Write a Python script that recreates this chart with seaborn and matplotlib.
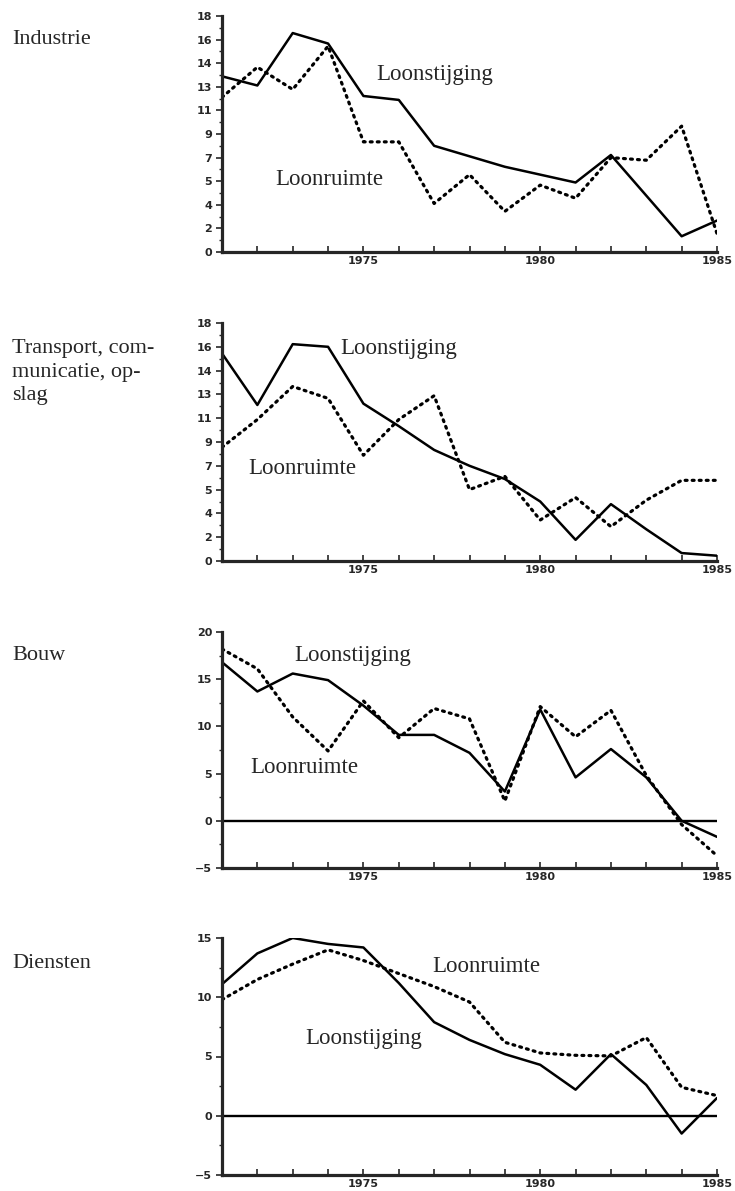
import numpy as np
import pandas as pd
import matplotlib
matplotlib.use("Agg")
import matplotlib.pyplot as plt
import seaborn as sns

# === data ===
years = list(range(1971, 1986))

ind_stijging = [13.4, 12.7, 16.7, 15.9, 11.9, 11.6, 8.1, 7.3, 6.5, 5.9, 5.3, 7.4, 4.3, 1.2, 2.4]
ind_ruimte = [11.8, 14.1, 12.4, 15.7, 8.4, 8.4, 3.7, 5.9, 3.1, 5.1, 4.1, 7.2, 7.0, 9.6, 1.4]

tra_stijging = [15.7, 11.8, 16.4, 16.2, 11.9, 10.2, 8.4, 7.2, 6.2, 4.5, 1.6, 4.3, 2.4, 0.6, 0.4]
tra_ruimte = [8.6, 10.7, 13.2, 12.3, 8.0, 10.7, 12.5, 5.4, 6.4, 3.1, 4.8, 2.6, 4.6, 6.1, 6.1]

bouw_stijging = [16.8, 13.7, 15.6, 14.9, 12.2, 9.1, 9.1, 7.2, 3.1, 11.8, 4.6, 7.6, 4.6, 0.0, -1.7]
bouw_ruimte = [18.2, 16.1, 11.0, 7.4, 12.7, 8.8, 11.9, 10.8, 2.1, 12.1, 8.9, 11.7, 4.8, -0.4, -3.7]

dien_stijging = [11.1, 13.7, 15.0, 14.5, 14.2, 11.2, 7.9, 6.4, 5.2, 4.3, 2.2, 5.2, 2.6, -1.5, 1.5]
dien_ruimte = [9.8, 11.5, 12.8, 14.0, 13.1, 12.0, 10.9, 9.6, 6.2, 5.3, 5.1, 5.05, 6.6, 2.4, 1.7]

sectors = ["Industrie", "Transport, com-\nmunicatie, op-\nslag", "Bouw", "Diensten"]
odd_labels = ["0", "2", "4", "5", "7", "9", "11", "13", "14", "16", "18"]
x_labels = ["1975", "1980", "1985"]

# === figure ===
sns.set_style("ticks")
plt.rcParams["font.family"] = ["DejaVu Sans"]
W, H = 735, 1191
fig = plt.figure(figsize=(W / 100, H / 100), dpi=100)

# axes boxes in pixels: (top, bottom)
boxes = [(16, 252), (323, 561), (632, 868), (938, 1175)]
x0, x1 = 222, 717

series = [(ind_stijging, ind_ruimte), (tra_stijging, tra_ruimte),
          (bouw_stijging, bouw_ruimte), (dien_stijging, dien_ruimte)]
ylims = [(0, 18), (0, 18), (-5, 20), (-5, 15)]

# text positions (x start, y centre) in data units
txt = [
    [("Loonstijging", 1975.35, 13.5), ("Loonruimte", 1972.5, 5.5)],
    [("Loonstijging", 1974.35, 16.1), ("Loonruimte", 1971.75, 7.0)],
    [("Loonstijging", 1973.05, 17.5), ("Loonruimte", 1971.8, 5.6)],
    [("Loonruimte", 1976.95, 12.6), ("Loonstijging", 1973.35, 6.5)],
]
side_y = [40, 372, 655, 963]

serif = "Liberation Serif"
tickfont = dict(family="DejaVu Sans", weight="bold", size=8)

for i, ((top, bot), (st, ru), yl) in enumerate(zip(boxes, series, ylims)):
    ax = fig.add_axes([x0 / W, 1 - bot / H, (x1 - x0) / W, (bot - top) / H])
    df = pd.DataFrame({"jaar": years, "stijging": st, "ruimte": ru})
    sns.lineplot(data=df, x="jaar", y="stijging", ax=ax, color="black", lw=1.8)
    sns.lineplot(data=df, x="jaar", y="ruimte", ax=ax, color="black", lw=2.3,
                 linestyle=(0, (0.6, 1.6)), dash_capstyle="round")
    ax.set_xlim(1971, 1985)
    ax.set_ylim(*yl)
    ax.set_xlabel("")
    ax.set_ylabel("")

    for s in ["top", "right"]:
        ax.spines[s].set_visible(False)
    for s in ["left", "bottom"]:
        ax.spines[s].set_linewidth(2.3)

    ax.set_xticks([1975, 1980, 1985])
    ax.set_xticklabels(x_labels, fontdict=tickfont)
    ax.set_xticks(years, minor=True)
    ax.tick_params(axis="x", which="both", direction="in", length=4, width=1.2, pad=3)

    if yl == (0, 18):
        yt = np.linspace(0, 18, 11)
        ax.set_yticks(yt)
        ax.set_yticklabels(odd_labels, fontdict=tickfont)
        ax.set_yticks(yt[:-1] + 0.9, minor=True)
    else:
        yt = np.arange(yl[0], yl[1] + 1, 5)
        ax.set_yticks(yt)
        ax.set_yticklabels([str(int(v)) if v >= 0 else "\u2212" + str(int(-v)) for v in yt],
                           fontdict=tickfont)
        ax.set_yticks(yt[:-1] + 2.5, minor=True)
        ax.axhline(0, color="black", lw=1.7)
    ax.tick_params(axis="y", which="major", direction="out", length=4, width=1.2, pad=3)
    ax.tick_params(axis="y", which="minor", direction="out", length=2.5, width=1.0)

    for label, tx, ty in txt[i]:
        ax.text(tx, ty, label, family=serif, fontsize=16.5, ha="left", va="center")

    fig.text(12 / W, 1 - side_y[i] / H, sectors[i], family=serif, fontsize=16,
             ha="left", va="center", linespacing=1.3)

fig.savefig("out.png", dpi=100)
